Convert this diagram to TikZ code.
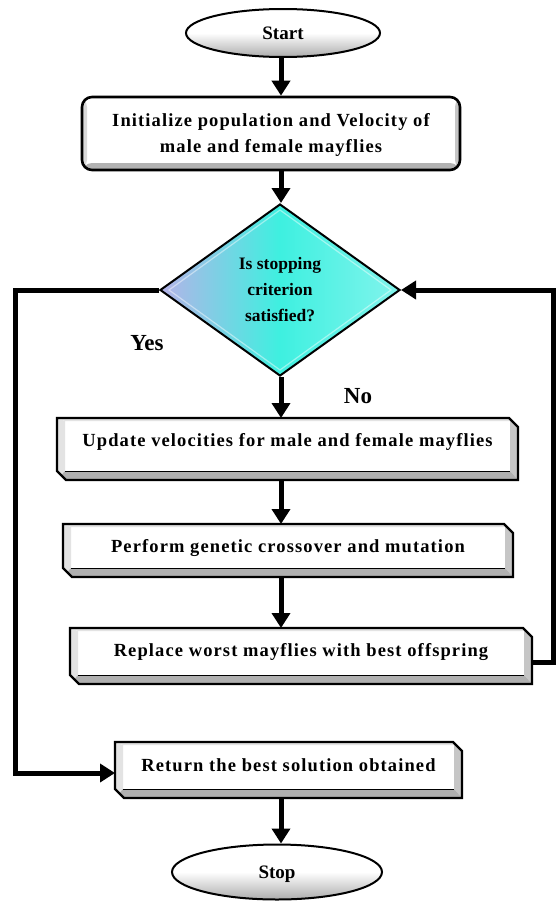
\documentclass[tikz,border=0pt]{standalone}
\usepackage{fontspec}
\setmainfont{Liberation Serif}
\newfontfamily\spacedfont[LetterSpace=6]{Liberation Serif}
\usetikzlibrary{shapes.geometric,arrows.meta}
\definecolor{diaA}{RGB}{182,178,232}
\definecolor{diaB}{RGB}{62,240,224}
\definecolor{diaC}{RGB}{130,244,236}
\newcommand{\bevelpath}[1]{(#1.north west) -- ([xshift=-9pt]#1.north east) -- ([yshift=-9pt]#1.north east) -- (#1.south east) -- ([xshift=9pt]#1.south west) -- ([yshift=9pt]#1.south west) -- cycle}
\newcommand{\bevelframe}[1]{%
  \begin{scope}
    \path[clip] \bevelpath{#1};
    \fill[white] (#1.north west) rectangle (#1.south east);
    \fill[bevelleft] (#1.north west) -- ([xshift=8pt,yshift=-3pt]#1.north west) -- ([xshift=8pt,yshift=9pt]#1.south west) -- (#1.south west) -- cycle;
    \fill[bevelright] (#1.north east) -- ([xshift=-8pt,yshift=-3pt]#1.north east) -- ([xshift=-8pt,yshift=9pt]#1.south east) -- (#1.south east) -- cycle;
    \fill[bevelbottom] ([xshift=8pt,yshift=9pt]#1.south west) -- ([xshift=-8pt,yshift=9pt]#1.south east) -- (#1.south east) -- (#1.south west) -- cycle;
    \fill[bevelleft] (#1.north west) -- ([xshift=8pt,yshift=-3pt]#1.north west) -- ([xshift=-8pt,yshift=-3pt]#1.north east) -- (#1.north east) -- cycle;
    \draw[black, line width=0.8pt] ([xshift=8pt,yshift=9pt]#1.south west) -- ([xshift=-8pt,yshift=9pt]#1.south east);
  \end{scope}
  \draw[frame] \bevelpath{#1};}
\begin{document}
\begin{tikzpicture}[x=1pt,y=-1pt,
  conn/.style={line width=5pt,-{Triangle[width=18pt,length=15pt]}},
  frame/.style={draw=black, line width=2.4pt, line join=miter},
  bevelleft/.style={fill=gray!22},
  bevelright/.style={fill=gray!45},
  bevelbottom/.style={fill=gray!62},
  terminal/.style={ellipse, draw=black, line width=2pt, inner sep=0pt,
    top color=white, bottom color=gray!65, middle color=white,
    text height=13pt, text depth=0pt,
    font=\fontsize{19}{22}\selectfont\bfseries},
  initbox/.style={rectangle, rounded corners=10pt, draw=black, line width=2.6pt, fill=white, inner sep=0pt,
    path picture={
      \fill[gray!30] (path picture bounding box.north west) rectangle ([xshift=5pt]path picture bounding box.south west);
      \fill[gray!45] ([xshift=-5pt]path picture bounding box.north east) rectangle (path picture bounding box.south east);
      \fill[gray!60] ([yshift=7pt]path picture bounding box.south west) rectangle (path picture bounding box.south east);
    }},
  bevelbox/.style={rectangle, draw=none, inner sep=0pt, outer sep=0pt},
  boxtext/.style={inner sep=0pt, align=center, font=\spacedfont\fontsize{18.5}{26}\selectfont\bfseries},
  decision/.style={diamond, draw=black, line width=2pt, inner sep=0pt, align=center,
    left color=diaA, right color=diaC, middle color=diaB,
    font=\fontsize{17.5}{26}\selectfont\bfseries},
  answer/.style={inner sep=0pt, font=\fontsize{23}{26}\selectfont\bfseries}
]
\useasboundingbox (0,0) rectangle (555,902);

\coordinate (ax) at (281,0);

\node[terminal, minimum width=194pt, minimum height=48pt] (start) at (283,33) {Start};

\node[initbox, minimum width=378pt, minimum height=73pt] (init) at (271,133.5) {};
\node[boxtext] (initt) at (271,135) {Initialize population and Velocity of\\male and female mayflies};

\node[decision, minimum width=240pt, minimum height=172pt] (dia) at (280,290)
  {Is stopping\\criterion\\satisfied?};
\draw[white, opacity=0.45, line width=1.2pt] ([yshift=-7pt]dia.north) -- ([xshift=10pt]dia.west) -- ([yshift=7pt]dia.south) -- ([xshift=-10pt]dia.east) -- cycle;

\node[bevelbox, minimum width=461pt, minimum height=62pt] (upd) at (287.5,449) {};
\bevelframe{upd}
\node[boxtext] (updt) at (287.5,442) {Update velocities for male and female mayflies};

\node[bevelbox, minimum width=450pt, minimum height=53pt] (perf) at (288,550.5) {};
\bevelframe{perf}
\node[boxtext] (perft) at (288,548) {Perform genetic crossover and mutation};

\node[bevelbox, minimum width=462pt, minimum height=56pt] (repl) at (301,656) {};
\bevelframe{repl}
\node[boxtext] (replt) at (301,652) {Replace worst mayflies with best offspring};

\node[bevelbox, minimum width=347pt, minimum height=56pt] (ret) at (288.5,770) {};
\bevelframe{ret}
\node[boxtext] (rett) at (288.5,765) {Return the best solution obtained};

\node[terminal, minimum width=210pt, minimum height=55pt] (stop) at (277,872) {Stop};

\node[answer] (yes) at (147,343) {Yes};
\node[answer] (no) at (358,396) {No};

% vertical connectors
\draw[conn] (ax |- start.south) -- (ax |- init.north);
\draw[conn] (ax |- init.south) -- (ax |- dia.north);
\draw[conn] (ax |- dia.south) -- (ax |- upd.north);
\draw[conn] (ax |- upd.south) -- (ax |- perf.north);
\draw[conn] (ax |- perf.south) -- (ax |- repl.north);
\draw[conn] (ax |- ret.south) -- (ax |- stop.north);

% loop back (No branch)
\coordinate (rr) at (553,662);
\draw[conn] (repl.east |- rr) -- (rr) -- (rr |- dia.east) -- (dia.east);

% Yes branch
\coordinate (ll) at (15,773);
\draw[conn] (dia.west) -- (dia.west -| ll) -- (ll) -- (ll -| ret.west);
\end{tikzpicture}
\end{document}
